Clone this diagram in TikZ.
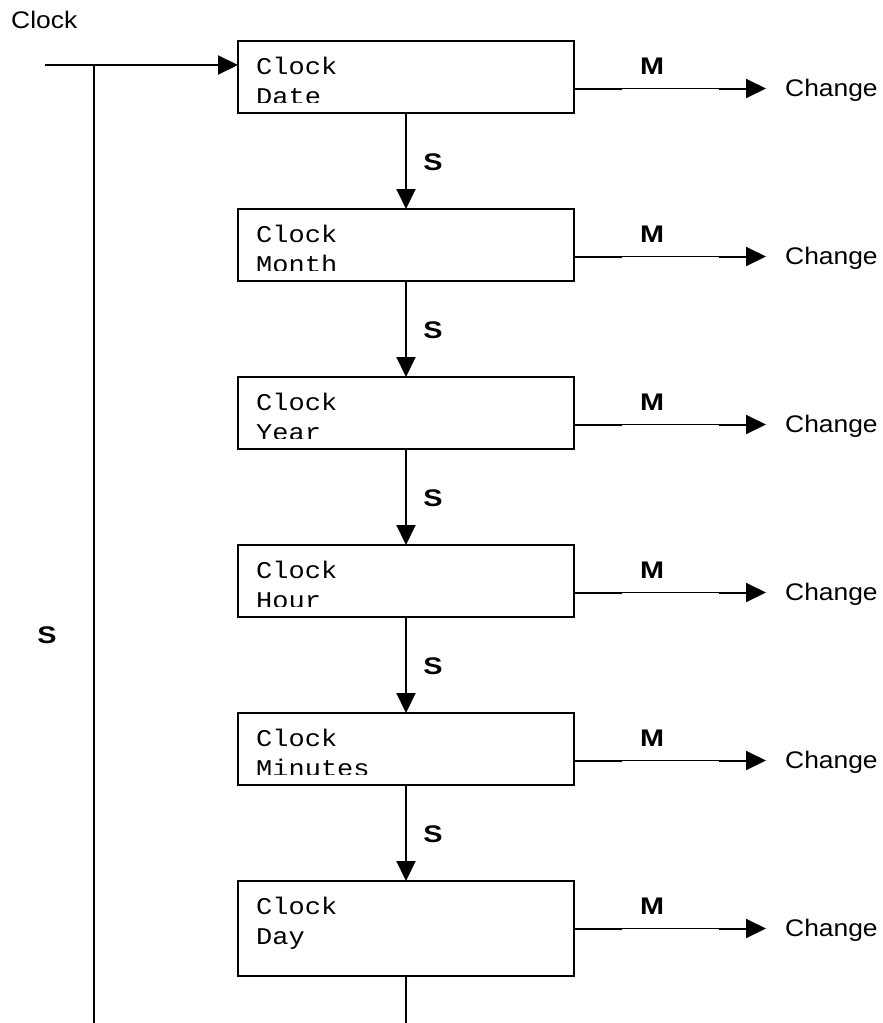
\documentclass[tikz,border=0pt]{standalone}
\usepackage{fontspec}
\usetikzlibrary{arrows.meta}
\newfontfamily\labelfont[FakeStretch=1.1]{Liberation Sans}
\newfontfamily\keyfont[FakeStretch=1.2]{Liberation Sans}
\newfontfamily\lcdfont[FakeStretch=1.125]{Liberation Mono}

\tikzset{
  thickline/.style={line width=2pt},
  thinline/.style={line width=1pt},
  arr/.style={-{Triangle[length=20pt,width=19pt]}},
  box/.style={draw, line width=2pt, anchor=north west, minimum width=336pt,
    inner sep=0pt, outer sep=0pt},
  lcdtext/.style={inner sep=0pt, font=\lcdfont\fontsize{24}{30}\selectfont},
  sanstext/.style={inner sep=0pt, font=\labelfont\fontsize{24}{28}\selectfont},
  keytext/.style={inner sep=0pt, font=\keyfont\bfseries\fontsize{24}{28}\selectfont},
}

% A menu box: name, top edge, height, second display line.
% The display text is cut off 10pt above the lower border.
\newcommand\menubox[4]{%
  \node[box, minimum height=#3pt] (#1) at (238,#2) {};
  \begin{scope}
    \clip ([yshift=10pt]#1.south west) rectangle (#1.north east);
    \node[lcdtext, anchor=base west] (#1a) at ([xshift=18pt,yshift=-33pt]#1.north west) {Clock};
    \node[lcdtext, anchor=base west] (#1b) at ([xshift=18pt,yshift=-63.5pt]#1.north west) {#4};
  \end{scope}}

% The "M" branch from a menu box to its "Change" target.
\newcommand\changebranch[1]{%
  \coordinate (#1m) at ([yshift=-47.5pt]#1.north east);
  \node[sanstext, anchor=west, text height=15pt, text depth=0pt] (#1c) at ([xshift=211pt]#1m) {Change};
  \draw[thickline] (#1m) -- ([xshift=48pt]#1m);
  \draw[thinline] ([xshift=48pt]#1m) -- ([xshift=145pt]#1m);
  \draw[thickline, arr] ([xshift=145pt]#1m) -- ([xshift=-19pt]#1c.west);
  \node[keytext] (#1k) at ([xshift=78pt,yshift=22pt]#1m) {M};}

\begin{document}
\begin{tikzpicture}[x=1pt, y=-1pt]
  \useasboundingbox (0,0) rectangle (883,1023);

  \node[sanstext, anchor=base west] (title) at (11,28) {Clock};

  \menubox{b1}{41}{71.5}{Date}
  \menubox{b2}{209}{71.5}{Month}
  \menubox{b3}{377}{71.5}{Year}
  \menubox{b4}{545}{71.5}{Hour}
  \menubox{b5}{713}{71.5}{Minutes}
  \menubox{b6}{881}{95}{Day}

  \foreach \b in {b1,b2,b3,b4,b5,b6} {\changebranch{\b}}

  % S steps down through the menu
  \foreach \u/\l in {b1/b2, b2/b3, b3/b4, b4/b5, b5/b6} {
    \draw[thickline, arr] (\u.south) -- node[keytext, xshift=27pt, yshift=-1pt] (s\u) {S} (\l.north);
  }

  % entry and the return loop on the left
  \coordinate (entry) at (45,65);
  \coordinate (split) at (94,65);
  \coordinate (loopend) at (94,1023);
  \draw[thickline, arr] (entry) -- ([yshift=-24pt]b1.north west);
  \draw[line width=2.3pt] (split) -- (loopend);
  \draw[thickline] (b6.south) -- (b6.south |- loopend);
  \node[keytext] (sloop) at (47,635.5) {S};
\end{tikzpicture}
\end{document}
